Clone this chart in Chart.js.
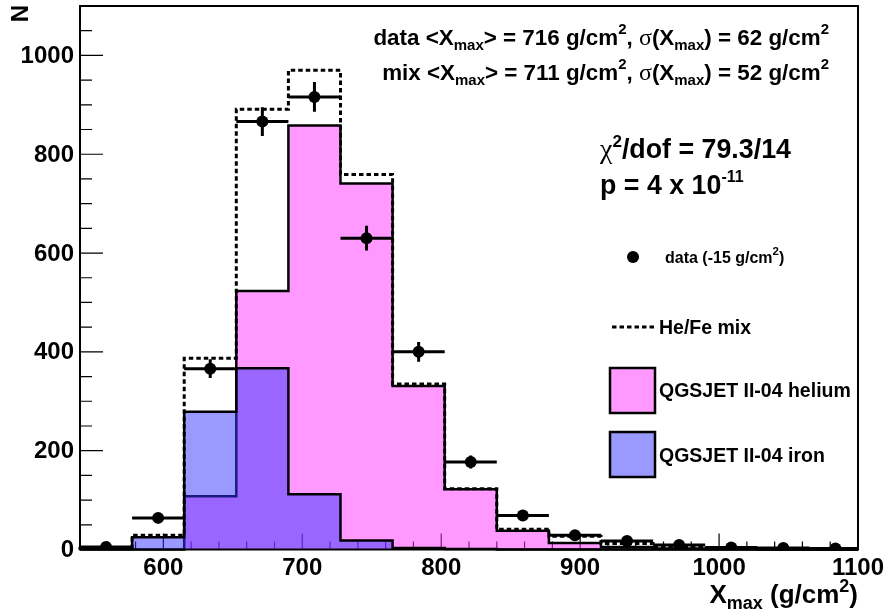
<!DOCTYPE html>
<html>
<head>
<meta charset="utf-8">
<script src="https://cdn.jsdelivr.net/npm/chart.js@4"></script>
<style>
  html, body { margin: 0; padding: 0; background: #fff; }
  #wrap { width: 888px; height: 613px; }
</style>
</head>
<body>
<div id="wrap"><canvas id="c" width="888" height="613"></canvas></div>
<script>
// Xmax histogram: data vs He/Fe mix (QGSJET II-04)

const binEdges = [540, 577.5, 615, 652.5, 690, 727.5, 765, 802.5, 840, 877.5, 915, 952.5, 990, 1027.5, 1065, 1102.5];
const dataCounts = [5, 64, 366, 866, 916, 630, 400, 177, 69, 29, 17, 9, 4, 3, 2];
const dataErrors = [2, 8, 19, 29, 30, 25, 20, 13, 8, 5, 4, 3, 2, 2, 1];
const heliumCounts = [0, 0, 108, 523, 858, 741, 331, 122, 38, 13, 5, 2, 1, 0, 0];
const ironCounts = [1, 25, 279, 367, 112, 18, 3, 1, 0, 0, 0, 0, 0, 0, 0];
const mixCounts = [2, 29, 387, 891, 970, 759, 335, 123, 41, 27, 12, 4, 2, 1, 0];

const xTicks = [600, 700, 800, 900, 1000, 1100];
const yTicks = [0, 200, 400, 600, 800, 1000];
const xRange = [540, 1100];
const yRange = [0, 1100];

const SANS = '"Liberation Sans", Arial, Helvetica, sans-serif';
const SERIF = '"Liberation Serif", "DejaVu Serif", serif';
const B = size => `bold ${size}px ${SANS}`;
const G = size => `${size}px ${SERIF}`;

// histogram outline as step points (left edge of each bin)
function stepPoints(counts) {
    const pts = [{ x: binEdges[0], y: 0 }];
    counts.forEach((v, i) => pts.push({ x: binEdges[i], y: v }));
    pts.push({ x: binEdges[counts.length], y: counts[counts.length - 1] });
    pts.push({ x: binEdges[counts.length], y: 0 });
    return pts;
}

const dataPoints = dataCounts.map((v, i) => ({ x: (binEdges[i] + binEdges[i + 1]) / 2, y: v }));

function drawRich(ctx, parts, x, y, align) {
    let w = 0;
    parts.forEach(p => { ctx.font = p.f; w += ctx.measureText(p.t).width; });
    let cx = align === 'right' ? x - w : x;
    parts.forEach(p => {
        ctx.font = p.f;
        ctx.fillText(p.t, cx, y + (p.dy || 0));
        cx += ctx.measureText(p.t).width;
    });
}

const rootAxes = {
    id: 'rootAxes',
    beforeDatasetsDraw(chart) {
        const { ctx, chartArea: a, scales: { x, y } } = chart;
        ctx.save();
        ctx.strokeStyle = '#000';
        ctx.lineWidth = 1.2;
        ctx.beginPath();
        for (let v = 560; v <= 1100; v += 20) {
            const px = x.getPixelForValue(v);
            const len = xTicks.includes(v) ? 16 : 8;
            ctx.moveTo(px, a.bottom);
            ctx.lineTo(px, a.bottom - len);
        }
        for (let v = 0; v <= 1050; v += 50) {
            const py = y.getPixelForValue(v);
            const len = yTicks.includes(v) ? 23 : 12;
            ctx.moveTo(a.left, py);
            ctx.lineTo(a.left + len, py);
        }
        ctx.stroke();
        ctx.restore();
    },
    afterDatasetsDraw(chart) {
        // error bars of the data points
        const { ctx, chartArea: a, scales: { x, y } } = chart;
        ctx.save();
        ctx.beginPath();
        ctx.rect(a.left, 0, a.right - a.left, chart.height);
        ctx.clip();
        ctx.strokeStyle = '#000';
        ctx.lineWidth = 3;
        ctx.beginPath();
        dataCounts.forEach((v, i) => {
            const py = y.getPixelForValue(v);
            const cx = x.getPixelForValue((binEdges[i] + binEdges[i + 1]) / 2);
            ctx.moveTo(x.getPixelForValue(binEdges[i]), py);
            ctx.lineTo(x.getPixelForValue(binEdges[i + 1]), py);
            ctx.moveTo(cx, y.getPixelForValue(v - dataErrors[i]));
            ctx.lineTo(cx, y.getPixelForValue(v + dataErrors[i]));
        });
        ctx.stroke();
        ctx.restore();
    },
    afterDraw(chart) {
        const { ctx, chartArea: a, scales: { x, y } } = chart;
        ctx.save();

        // frame
        ctx.strokeStyle = '#000';
        ctx.lineWidth = 2;
        ctx.strokeRect(a.left, a.top, a.right - a.left, a.bottom - a.top);

        ctx.fillStyle = '#000';
        ctx.font = B(24);
        ctx.textAlign = 'right';
        ctx.textBaseline = 'middle';
        yTicks.forEach(v => ctx.fillText(String(v), a.left - 6, y.getPixelForValue(v) + 1));

        ctx.textAlign = 'center';
        ctx.textBaseline = 'alphabetic';
        xTicks.forEach(v => ctx.fillText(String(v), x.getPixelForValue(v), 575));

        // axis titles
        ctx.textAlign = 'left';
        drawRich(ctx, [
            { t: 'X', f: B(26) },
            { t: 'max', f: B(18), dy: 6 },
            { t: ' (g/cm', f: B(26) },
            { t: '2', f: B(18), dy: -11 },
            { t: ')', f: B(26) }
        ], a.right, 603, 'right');

        ctx.save();
        ctx.translate(28, 5);
        ctx.rotate(-Math.PI / 2);
        ctx.font = B(24);
        ctx.textAlign = 'right';
        ctx.fillText('N', 0, 0);
        ctx.restore();

        // annotations
        ctx.textAlign = 'left';
        const statLine = (label, mean, sigma, base) => drawRich(ctx, [
            { t: label + ' <X', f: B(22.4) },
            { t: 'max', f: B(15), dy: 5 },
            { t: '> = ' + mean + ' g/cm', f: B(22.4) },
            { t: '2', f: B(15), dy: -11 },
            { t: ', ', f: B(22.4) },
            { t: 'σ', f: G(24) },
            { t: '(X', f: B(22.4) },
            { t: 'max', f: B(15), dy: 5 },
            { t: ') = ' + sigma + ' g/cm', f: B(22.4) },
            { t: '2', f: B(15), dy: -11 }
        ], 829, base, 'right');
        statLine('data', 716, 62, 45);
        statLine('mix', 711, 52, 80);

        drawRich(ctx, [
            { t: 'χ', f: G(28) },
            { t: '2', f: B(17), dy: -11 },
            { t: '/dof = 79.3/14', f: B(26.8) }
        ], 600, 158, 'left');
        drawRich(ctx, [
            { t: 'p = 4 x 10', f: B(26.8) },
            { t: '-11', f: B(16), dy: -12 }
        ], 600, 194, 'left');

        // legend
        ctx.beginPath();
        ctx.arc(633, 257, 6, 0, Math.PI * 2);
        ctx.fill();
        drawRich(ctx, [
            { t: 'data (-15 g/cm', f: B(16) },
            { t: '2', f: B(11.5), dy: -8 },
            { t: ')', f: B(16) }
        ], 665, 263, 'left');

        ctx.lineWidth = 3;
        ctx.setLineDash([4.5, 3]);
        ctx.beginPath();
        ctx.moveTo(612, 327);
        ctx.lineTo(655, 327);
        ctx.stroke();
        ctx.setLineDash([]);
        ctx.font = B(19.5);
        ctx.fillText('He/Fe mix', 659, 334);

        ctx.lineWidth = 2.5;
        ctx.fillStyle = 'rgb(255,153,255)';
        ctx.fillRect(610, 368, 45, 45);
        ctx.strokeRect(610, 368, 45, 45);
        ctx.fillStyle = 'rgb(153,153,255)';
        ctx.fillRect(610, 432, 45, 45);
        ctx.strokeRect(610, 432, 45, 45);
        ctx.fillStyle = '#000';
        ctx.fillText('QGSJET II-04 helium', 659, 397);
        ctx.fillText('QGSJET II-04 iron', 659, 462);

        ctx.restore();
    }
};

const histClip = { left: 5, top: 5, right: 0, bottom: 5 };

new Chart(document.getElementById('c'), {
    type: 'line',
    data: {
        datasets: [
            {
                label: 'data (-15 g/cm2)',
                data: dataPoints,
                showLine: false,
                pointRadius: 6,
                pointBackgroundColor: '#000',
                pointBorderWidth: 0,
                order: 0
            },
            {
                label: 'He/Fe mix',
                data: stepPoints(mixCounts),
                stepped: 'before',
                borderColor: '#000',
                borderWidth: 3,
                borderDash: [4.5, 3],
                pointRadius: 0,
                fill: false,
                clip: histClip,
                order: 1
            },
            {
                label: 'QGSJET II-04 iron',
                data: stepPoints(ironCounts),
                stepped: 'before',
                borderColor: '#000',
                borderWidth: 2.5,
                backgroundColor: 'rgba(51,51,255,0.5)',
                pointRadius: 0,
                fill: 'origin',
                clip: histClip,
                order: 2
            },
            {
                label: 'QGSJET II-04 helium',
                data: stepPoints(heliumCounts),
                stepped: 'before',
                borderColor: '#000',
                borderWidth: 2.5,
                backgroundColor: 'rgba(255,51,255,0.5)',
                pointRadius: 0,
                fill: 'origin',
                clip: histClip,
                order: 3
            }
        ]
    },
    options: {
        responsive: false,
        animation: false,
        devicePixelRatio: 1,
        events: [],
        layout: { padding: { left: 80, right: 30, top: 4, bottom: 63.5 } },
        scales: {
            x: { type: 'linear', min: xRange[0], max: xRange[1], display: false },
            y: { type: 'linear', min: yRange[0], max: yRange[1], display: false }
        },
        plugins: {
            legend: { display: false },
            tooltip: { enabled: false }
        }
    },
    plugins: [rootAxes]
});
</script>
</body>
</html>
